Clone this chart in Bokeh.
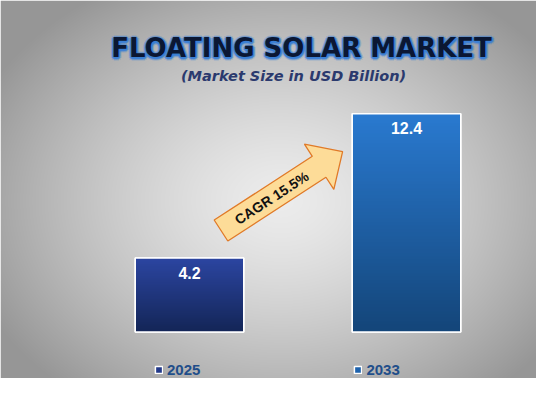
import numpy as np
from bokeh.plotting import figure
from bokeh.models import Range1d, Label, Legend, LegendItem, ColumnDataSource
from bokeh.core.properties import value
from bokeh.embed import file_html
from bokeh.resources import INLINE

# ---- data ----
years = ["2025", "2033"]
market_size = [4.2, 12.4]
cagr_text = "CAGR 15.5%"
title_text = "FLOATING SOLAR MARKET"
subtitle_text = "(Market Size in USD Billion)"

bar_base_colors = ["#22398a", "#1d62ad"]
bar_top_colors = [(44, 70, 162), (42, 122, 208)]
bar_bottom_colors = [(20, 38, 88), (20, 70, 122)]

# ---- layout ----
W, H = 536, 378
PX_X = 217.0      # px per x unit
X0_PX = 189.0     # screen x of first category
PX_Y = 17.6       # px per value unit
BASE_PX = 46.5    # baseline distance from bottom
BAR_W = 0.5

x_range = Range1d(-X0_PX / PX_X, (W - X0_PX) / PX_X)
y_range = Range1d(-BASE_PX / PX_Y, (H - BASE_PX) / PX_Y)

def dx(px):
    return x_range.start + px / PX_X

def dy(py):
    return y_range.end - py / PX_Y

p = figure(width=W, height=H, x_range=x_range, y_range=y_range,
           x_axis_type=None, y_axis_type=None, min_border=0,
           toolbar_location=None, output_backend="svg")
p.grid.visible = False
p.outline_line_color = None
p.border_fill_color = "#c8c8c8"

# ---- background radial gradient ----
yy, xx = np.mgrid[0:H, 0:W]
sy = (H - 1) - yy  # screen y from top for row index
t = np.sqrt(((xx - 280) / 330.0) ** 2 + ((sy - 200) / 250.0) ** 2)
t = np.clip(t, 0, 1)
g = (236 - 86 * t ** 1.4).astype(np.uint8)
bg = np.zeros((H, W), dtype=np.uint32)
v = bg.view(dtype=np.uint8).reshape((H, W, 4))
v[:, :, 0] = g
v[:, :, 1] = g
v[:, :, 2] = g
v[:, :, 3] = 255
p.image_rgba(image=[bg], x=x_range.start, y=y_range.start,
             dw=x_range.end - x_range.start, dh=y_range.end - y_range.start)

# ---- bars ----
xs = list(range(len(years)))
src = ColumnDataSource(dict(x=xs, top=market_size, color=bar_base_colors, year=years))
bars = p.vbar(x="x", top="top", width=BAR_W, bottom=0, source=src,
              fill_color="color", line_color="white", line_width=1.5)

N = 64
for i, val in enumerate(market_size):
    img = np.zeros((N, 1), dtype=np.uint32)
    iv = img.view(dtype=np.uint8).reshape((N, 1, 4))
    f = np.linspace(0, 1, N)
    for c in range(3):
        iv[:, 0, c] = (bar_bottom_colors[i][c] + (bar_top_colors[i][c] - bar_bottom_colors[i][c]) * f).astype(np.uint8)
    iv[:, 0, 3] = 255
    p.image_rgba(image=[img], x=xs[i] - BAR_W / 2, y=0, dw=BAR_W, dh=val)

p.vbar(x="x", top="top", width=BAR_W, bottom=0, source=src,
       fill_color=None, line_color="white", line_width=1.5)

# value labels
lab_src = ColumnDataSource(dict(x=xs, y=[m - 14.5 / PX_Y for m in market_size],
                                t=[f"{m:.1f}" for m in market_size]))
p.text(x="x", y="y", text="t", source=lab_src, text_align="center",
       text_baseline="middle", text_color="white",
       text_font=value("Liberation Sans"), text_font_style="bold",
       text_font_size="16px")

# ---- CAGR arrow ----
ang = np.deg2rad(33.0)
d = np.array([np.cos(ang), -np.sin(ang)])
n_up = np.array([-np.sin(ang), -np.cos(ang)])
T = np.array([220.5, 230.0])
body_len, tot_len, bw, hw = 117.0, 145.0, 12.5, 27.0
pts = [T + bw * n_up, T + body_len * d + bw * n_up, T + body_len * d + hw * n_up,
       T + tot_len * d, T + body_len * d - hw * n_up, T + body_len * d - bw * n_up,
       T - bw * n_up]
p.patch(x=[dx(q[0]) for q in pts], y=[dy(q[1]) for q in pts],
        fill_color="#fddc98", line_color="#e07a28", line_width=1.3)
tc = T + 58 * d
p.text(x=[dx(tc[0] + 2)], y=[dy(tc[1] - 1)], text=[cagr_text], angle=ang,
       text_align="center", text_baseline="middle", text_color="#111111",
       text_font=value("Liberation Sans"), text_font_style="bold",
       text_font_size="14px")

# ---- titles ----
tx, ty = 301, H - 47
ring = [(-1, 0), (1, 0), (0, -1), (0, 1), (-0.7, -0.7), (0.7, 0.7), (-0.7, 0.7), (0.7, -0.7)]
for r, a in [(3.0, 0.18), (2.0, 0.3), (1.2, 0.45)]:
    for ox, oy in ring:
        p.add_layout(Label(x=tx + ox * r, y=ty + oy * r - 1.5, x_units="screen", y_units="screen",
                           text=title_text, text_align="center", text_baseline="middle",
                           text_font="DejaVu Sans", text_font_style="bold",
                           text_font_size="26px", text_color="#3a7fd6", text_alpha=a))
p.add_layout(Label(x=tx, y=ty, x_units="screen", y_units="screen",
                   text=title_text, text_align="center", text_baseline="middle",
                   text_font="DejaVu Sans", text_font_style="bold",
                   text_font_size="26px", text_color="#0b1733"))
p.add_layout(Label(x=293, y=H - 75, x_units="screen", y_units="screen",
                   text=subtitle_text, text_align="center", text_baseline="middle",
                   text_font="DejaVu Sans", text_font_style="bold italic",
                   text_font_size="14.5px", text_color="#2b3a6e"))

# ---- legend ----
legend = Legend(items=[LegendItem(label=years[i], renderers=[bars], index=i) for i in range(len(years))],
                orientation="horizontal", location=(154, 0),
                glyph_width=9, glyph_height=9, label_standoff=4, spacing=153,
                label_height=14, padding=0, margin=0, border_line_alpha=0,
                background_fill_alpha=0,
                label_text_font="Liberation Sans", label_text_font_style="bold",
                label_text_font_size="15px", label_text_color="#1f4e8a")
p.add_layout(legend)

open("out.html", "w").write(file_html(p, INLINE))
